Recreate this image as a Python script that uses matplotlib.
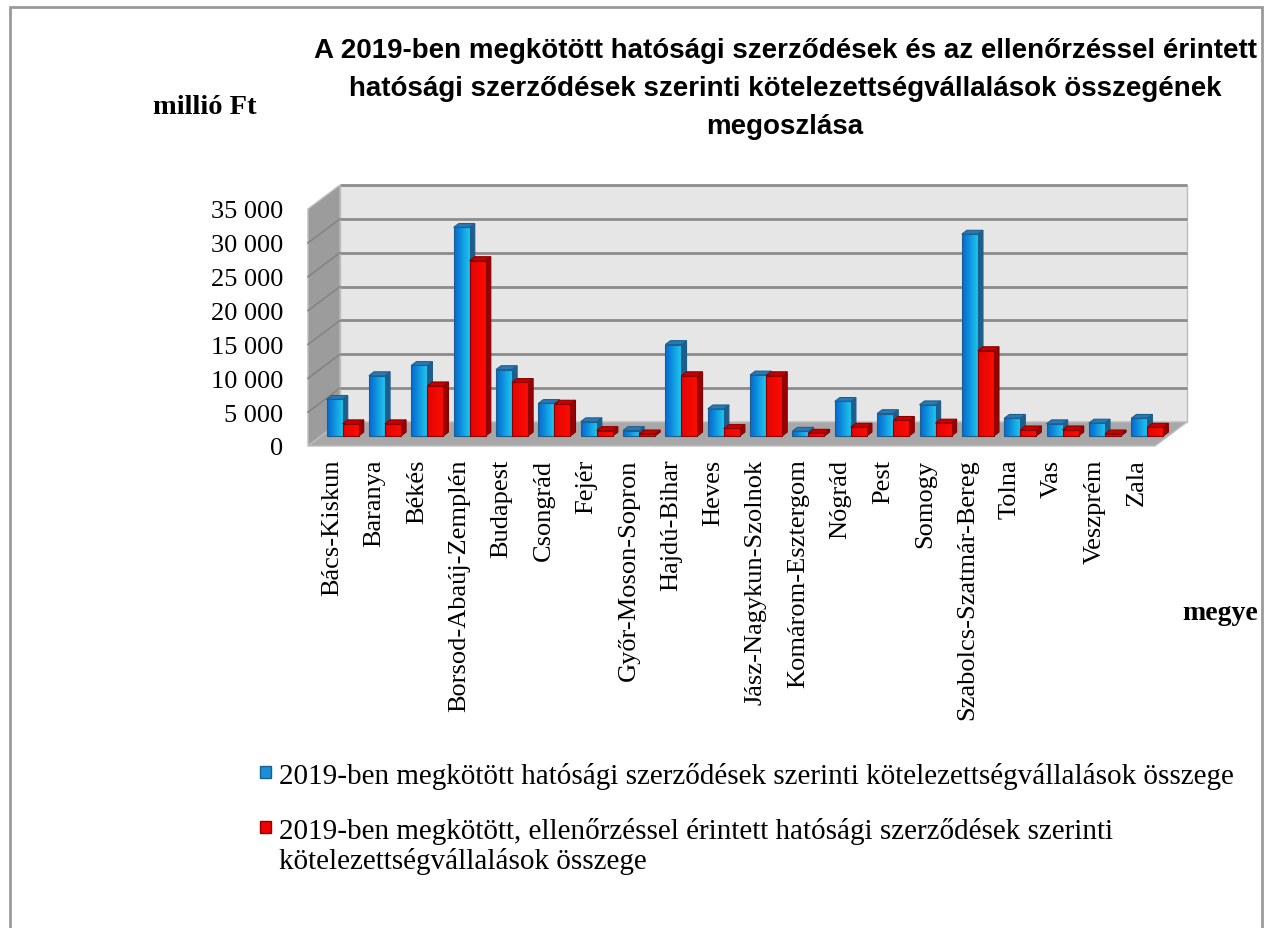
import numpy as np
import matplotlib
matplotlib.use("Agg")
import matplotlib.pyplot as plt
from matplotlib.patches import Polygon, Rectangle
from matplotlib.transforms import Affine2D, IdentityTransform, ScaledTranslation

# ---------------- data ----------------
categories = ["Bács-Kiskun", "Baranya", "Békés", "Borsod-Abaúj-Zemplén", "Budapest",
              "Csongrád", "Fejér", "Győr-Moson-Sopron", "Hajdú-Bihar", "Heves",
              "Jász-Nagykun-Szolnok", "Komárom-Esztergom", "Nógrád", "Pest", "Somogy",
              "Szabolcs-Szatmár-Bereg", "Tolna", "Vas", "Veszprém", "Zala"]
total_values = [5400, 8900, 10400, 30800, 9800, 4800, 2100, 800, 13500, 4000,
                9000, 700, 5100, 3300, 4600, 29800, 2600, 1800, 1900, 2600]
checked_values = [1800, 1800, 7400, 25900, 7900, 4700, 800, 300, 8900, 1100,
                  8900, 400, 1300, 2300, 1900, 12600, 900, 900, 300, 1300]
y_ticks = [0, 5000, 10000, 15000, 20000, 25000, 30000, 35000]
y_tick_labels = ["0", "5 000", "10 000", "15 000", "20 000", "25 000", "30 000", "35 000"]
series_labels = ["2019-ben megkötött hatósági szerződések szerinti kötelezettségvállalások összege",
                 "2019-ben megkötött, ellenőrzéssel érintett hatósági szerződések szerinti\n"
                 "kötelezettségvállalások összege"]
title = ("A 2019-ben megkötött hatósági szerződések és az ellenőrzéssel érintett\n"
         "hatósági szerződések szerinti kötelezettségvállalások összegének\n"
         "megoszlása")
y_unit = "millió Ft"
x_title = "megye"

# ---------------- figure ----------------
W, H = 1265, 929
fig = plt.figure(figsize=(W / 100, H / 100), dpi=100)
fig.patch.set_facecolor("white")

# outer chart border
fig.patches.append(Rectangle((10 / W, -0.05), (1262 - 10) / W, 1.05 - 8 / H,
                             transform=fig.transFigure, fill=False,
                             edgecolor="#9a9a9a", lw=2))

# front plane of 3D box (pixels): x 308..1155, y 447(bottom)..210(top)
ax = fig.add_axes([308 / W, 1 - 447 / H, (1155 - 308) / W, (447 - 210) / H])
n = len(categories)
ax.set_xlim(-0.5, n - 0.5)
ax.set_ylim(0, 35000)
ax.patch.set_visible(False)
for s in ax.spines.values():
    s.set_visible(False)

DX, DY = 32.0, 24.0  # full depth offset in pixels


def depth_tr(t):
    return ax.transData + Affine2D().translate(t * DX, t * DY)


def disp(x, y, t):
    p = ax.transData.transform((x, y))
    return (p[0] + t * DX, p[1] + t * DY)


X0, X1 = -0.5, n - 0.5
YMAX = 35000

# back wall
back = depth_tr(1.0)
ax.add_patch(Rectangle((X0, 0), X1 - X0, YMAX, transform=back, facecolor="#e6e6e6",
                       edgecolor="#bdbdbd", lw=1, clip_on=False, zorder=0))
for yt in y_ticks[1:]:
    ax.plot([X0, X1], [yt, yt], transform=back, color="#8c8c8c", lw=2,
            clip_on=False, zorder=0.5, solid_capstyle="butt")

# left side wall
side = [disp(X0, 0, 0), disp(X0, 0, 1), disp(X0, YMAX, 1), disp(X0, YMAX, 0)]
ax.add_patch(Polygon(side, closed=True, transform=IdentityTransform(), facecolor="#9c9c9c",
                     edgecolor="#bdbdbd", lw=1, clip_on=False, zorder=0.6))
for yt in y_ticks[1:-1]:
    a, b = disp(X0, yt, 0), disp(X0, yt, 1)
    ax.plot([a[0], b[0]], [a[1], b[1]], transform=IdentityTransform(), color="#858585",
            lw=1.2, clip_on=False, zorder=0.7)

# floor
floor = [disp(X0, 0, 0), disp(X1, 0, 0), disp(X1, 0, 1), disp(X0, 0, 1)]
ax.add_patch(Polygon(floor, closed=True, transform=IdentityTransform(), facecolor="#a8a8a8",
                     edgecolor="#bdbdbd", lw=1, clip_on=False, zorder=0.8))

# ---------------- bars ----------------
bw = 0.378
d0, d1 = 0.42, 0.58
front = depth_tr(d0)

styles = [
    dict(left=(0.02, 0.40, 0.82), right=(0.12, 0.80, 0.94), side="#1d5f8c", top="#2a78b8",
         edge="#1d5f8c"),
    dict(left=(0.88, 0.02, 0.02), right=(1.0, 0.05, 0.0), side="#9a0000", top="#c80000",
         edge="#8a0000"),
]

z = 2.0
for i in range(n):
    for k, vals in enumerate((total_values, checked_values)):
        st = styles[k]
        v = vals[i]
        xa = i - bw + k * bw
        xb = xa + bw
        # side face
        sf = [disp(xb, 0, d0), disp(xb, 0, d1), disp(xb, v, d1), disp(xb, v, d0)]
        ax.add_patch(Polygon(sf, closed=True, transform=IdentityTransform(),
                             facecolor=st["side"], edgecolor=st["edge"], lw=0.8,
                             clip_on=False, zorder=z))
        # top face
        tf = [disp(xa, v, d0), disp(xb, v, d0), disp(xb, v, d1), disp(xa, v, d1)]
        ax.add_patch(Polygon(tf, closed=True, transform=IdentityTransform(),
                             facecolor=st["top"], edgecolor=st["edge"], lw=0.8,
                             clip_on=False, zorder=z + 0.01))
        # front face with gradient
        bars = ax.bar([xa + bw / 2], [v], width=bw, transform=front, facecolor="none",
                      edgecolor=st["edge"], lw=0.8, clip_on=False, zorder=z + 0.03)
        grad = np.linspace(0, 1, 64)
        img = np.zeros((2, 64, 3))
        for c in range(3):
            img[:, :, c] = st["left"][c] + (st["right"][c] - st["left"][c]) * grad
        im = ax.imshow(img, extent=[xa, xb, 0, v], transform=front, aspect="auto",
                       interpolation="bilinear", zorder=z + 0.02, clip_on=True)
        im.set_clip_path(bars.patches[0])
        z += 0.1

ax.set_xlim(-0.5, n - 0.5)
ax.set_ylim(0, 35000)

# ---------------- axes text ----------------
ax.set_yticks(y_ticks)
ax.set_yticklabels(y_tick_labels)
ax.set_xticks(np.arange(n))
ax.set_xticklabels(categories, rotation=90)
ax.tick_params(axis="y", length=0, pad=18, labelsize=19)
ax.tick_params(axis="x", length=0, pad=9, labelsize=19)
for lab in ax.get_xticklabels() + ax.get_yticklabels():
    lab.set_fontfamily("Liberation Serif")
shift = ScaledTranslation(3 / 100, 0, fig.dpi_scale_trans)
for lab in ax.get_xticklabels():
    lab.set_va("top")
    lab.set_ha("center")
    lab.set_transform(lab.get_transform() + shift)

fig.text(785 / W, 1 - 89 / H, title, ha="center", va="center", fontsize=20,
         fontweight="bold", family="Liberation Sans", linespacing=1.62)
fig.text(205 / W, 1 - 108 / H, y_unit, ha="center", va="center", fontsize=20.5,
         fontweight="bold", family="Liberation Serif")
fig.text(1220 / W, 1 - 613 / H, x_title, ha="center", va="center", fontsize=20,
         fontweight="bold", family="Liberation Serif")

# ---------------- legend ----------------
leg_y = [773, 828]
leg_cols = [("#1a8fd6", "#1d5f8c"), ("#f00000", "#8a0000")]
for j, lab in enumerate(series_labels):
    fc, ec = leg_cols[j]
    fig.patches.append(Rectangle((260 / W, 1 - (leg_y[j] + 6) / H), 11 / W, 12 / H,
                                 transform=fig.transFigure, facecolor=fc, edgecolor=ec, lw=1))
    fig.text(279 / W, 1 - (leg_y[j] - 10) / H, lab, ha="left", va="top", fontsize=21,
             family="Liberation Serif", linespacing=1.12)

fig.savefig("out.png", dpi=100)
